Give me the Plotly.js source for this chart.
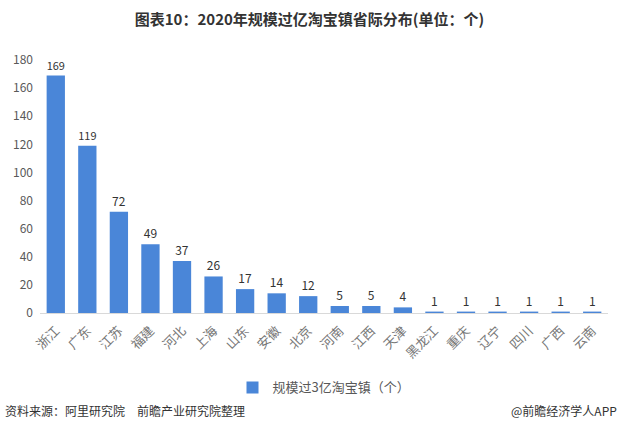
<!DOCTYPE html>
<html><head><meta charset="utf-8">
<script src="https://cdn.plot.ly/plotly-3.0.1.min.js"></script>
<style>body{margin:0;background:#fff}#c{width:619px;height:434px}</style>
</head><body><div id="c"></div>
<script>
const provinces = ["浙江","广东","江苏","福建","河北","上海","山东","安徽","北京","河南","江西","天津","黑龙江","重庆","辽宁","四川","广西","云南"];
const towns = [169,119,72,49,37,26,17,14,12,5,5,4,1,1,1,1,1,1];
const yTicks = [0,20,40,60,80,100,120,140,160,180];
const font = "'Microsoft YaHei','Noto Sans CJK SC',sans-serif";
const trace = {
  type:'bar', x:provinces, y:towns, name:'规模过3亿淘宝镇（个）',
  marker:{color:'#4a86d8'}, width:0.58,
  text:towns.map(String), textposition:'outside', cliponaxis:false,
  textfont:{family:font,size:12,color:'#333'}
};
const layout = {
  width:619, height:434,
  margin:{l:40,r:11,t:60,b:121},
  paper_bgcolor:'#fff', plot_bgcolor:'#fff',
  font:{family:font,color:'#595959'},
  title:{text:'<b>图表10：2020年规模过亿淘宝镇省际分布(单位：个)</b>', x:0.5, xanchor:'center', y:0.955, yanchor:'middle', font:{family:font,size:15,color:'#333'}},
  xaxis:{tickangle:-45, tickfont:{size:13,color:'#777'}, showline:true, linecolor:'#d9d9d9', linewidth:1, ticks:'outside', ticklen:4, tickcolor:'rgba(0,0,0,0)', showgrid:false},
  yaxis:{range:[0,180], tickvals:yTicks, showgrid:false, zeroline:false, showline:false, ticks:'', tickfont:{size:12,color:'#595959'}, ticklabelstandoff:6},
  showlegend:true,
  legend:{orientation:'h', x:0.5, xanchor:'center', y:-0.235, yanchor:'top', font:{size:13,color:'#595959'}, itemwidth:30},
  annotations:[
    {text:'资料来源：阿里研究院　前瞻产业研究院整理', xref:'paper', yref:'paper', x:-0.065, xanchor:'left', y:-0.387, yanchor:'middle', showarrow:false, font:{size:12,color:'#333'}},
    {text:'@前瞻经济学人APP', xref:'paper', yref:'paper', x:1.02, xanchor:'right', y:-0.387, yanchor:'middle', showarrow:false, font:{size:12,color:'#333'}}
  ]
};
Plotly.newPlot('c',[trace],layout,{displayModeBar:false,staticPlot:true});
</script></body></html>
